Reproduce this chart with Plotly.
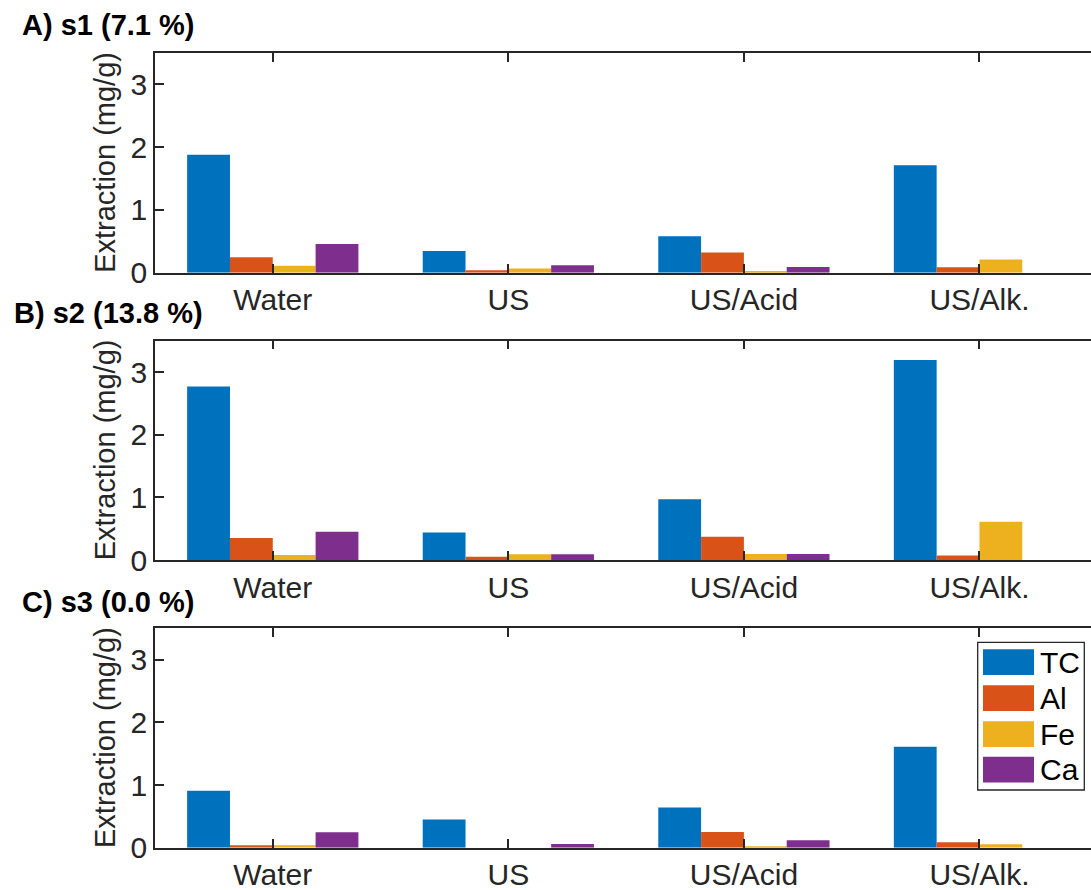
import plotly.graph_objects as go
from plotly.subplots import make_subplots

# Treatments on the x axis and the measured species
treatments = ["Water", "US", "US/Acid", "US/Alk."]
species = ["TC", "Al", "Fe", "Ca"]
colors = ["#0072BD", "#D95319", "#EDB120", "#7E2F8E"]

# Extraction (mg/g) per sample, one list per species in treatment order
s1_tc = [1.88, 0.345, 0.58, 1.71]
s1_al = [0.245, 0.04, 0.32, 0.085]
s1_fe = [0.11, 0.065, 0.02, 0.21]
s1_ca = [0.457, 0.12, 0.09, 0.0]

s2_tc = [2.77, 0.44, 0.97, 3.19]
s2_al = [0.35, 0.05, 0.37, 0.07]
s2_fe = [0.08, 0.09, 0.096, 0.61]
s2_ca = [0.45, 0.09, 0.096, 0.0]

s3_tc = [0.91, 0.45, 0.64, 1.61]
s3_al = [0.04, 0.0, 0.25, 0.086]
s3_fe = [0.04, 0.0, 0.01, 0.055]
s3_ca = [0.245, 0.06, 0.12, 0.0]

panel_titles = ["A) s1 (7.1 %)", "B) s2 (13.8 %)", "C) s3 (0.0 %)"]
panels = [
    [s1_tc, s1_al, s1_fe, s1_ca],
    [s2_tc, s2_al, s2_fe, s2_ca],
    [s3_tc, s3_al, s3_fe, s3_ca],
]

W, H = 1091, 890
FONT = "Liberation Sans, Arial, Helvetica, sans-serif"
AXC = "#262626"

fig = make_subplots(rows=3, cols=1)

for r, series in enumerate(panels, start=1):
    for name, vals, col in zip(species, series, colors):
        fig.add_trace(
            go.Bar(
                x=treatments, y=vals, name=name,
                marker=dict(color=col, line=dict(width=0)),
                showlegend=False,
            ),
            row=r, col=1,
        )

# Axis placement in pixels: (top, bottom) of each plot box
boxes = [(53, 272.7), (340.7, 560.0), (628.3, 847.7)]
left_px = 155
x_dom = [left_px / W, 1.0]
unit_px = 235.56
x_hi = -0.5 + (W - left_px) / unit_px

for i, (top, bot) in enumerate(boxes, start=1):
    xa = "xaxis" if i == 1 else f"xaxis{i}"
    ya = "yaxis" if i == 1 else f"yaxis{i}"
    fig.layout[xa].update(
        domain=x_dom, range=[-0.5, x_hi], type="category", automargin=False,
        showline=True, linecolor=AXC, linewidth=1.5, mirror="ticks",
        ticks="inside", ticklen=9, tickcolor=AXC, tickwidth=1.5,
        tickfont=dict(family=FONT, size=30, color=AXC),
        ticklabelstandoff=0,
        showgrid=False, zeroline=False,
    )
    fig.layout[ya].update(
        domain=[1 - bot / H, 1 - top / H], range=[0, 3.5], automargin=False,
        tickvals=[0, 1, 2, 3], ticktext=["0", "1", "2", "3"],
        showline=True, linecolor=AXC, linewidth=1.5,
        ticks="inside", ticklen=9, tickcolor=AXC, tickwidth=1.5,
        tickfont=dict(family=FONT, size=30, color=AXC),
        showgrid=False, zeroline=False,
    )
    # y-axis label
    fig.add_annotation(
        x=105 / W, y=1 - (top + bot) / 2 / H, xref="paper", yref="paper",
        text="Extraction (mg/g)", textangle=-90, showarrow=False,
        font=dict(family=FONT, size=29, color=AXC),
        xanchor="center", yanchor="middle",
    )

# Panel titles
title_y = [25, 313, 602]
for t, yc in zip(panel_titles, title_y):
    fig.add_annotation(
        x=108 / W, y=1 - yc / H, xref="paper", yref="paper",
        text=f"<b>{t}</b>", showarrow=False,
        font=dict(family=FONT, size=29, color="black"),
        xanchor="center", yanchor="middle",
    )

# Legend box drawn in the bottom panel
lg_x0, lg_x1, lg_y0, lg_y1 = 977.7, 1084.3, 642.3, 790.0
fig.add_shape(
    type="rect", xref="paper", yref="paper",
    x0=lg_x0 / W, x1=lg_x1 / W, y0=1 - lg_y1 / H, y1=1 - lg_y0 / H,
    line=dict(color=AXC, width=1.3), fillcolor="white", layer="above",
)
sw_top = [649.3, 685.3, 721.3, 756.7]
sw_h = 25.8
for name, col, yt in zip(species, colors, sw_top):
    fig.add_shape(
        type="rect", xref="paper", yref="paper",
        x0=983 / W, x1=1034 / W, y0=1 - (yt + sw_h) / H, y1=1 - yt / H,
        line=dict(width=0), fillcolor=col, layer="above",
    )
    fig.add_annotation(
        x=1038 / W, y=1 - (yt + sw_h / 2) / H, xref="paper", yref="paper",
        text=name, showarrow=False, xanchor="left", yanchor="middle",
        font=dict(family=FONT, size=30, color="black"),
    )

fig.update_layout(
    width=W, height=H, autosize=False,
    margin=dict(l=0, r=0, t=0, b=0),
    paper_bgcolor="white", plot_bgcolor="white",
    barmode="group", bargap=0.273, bargroupgap=0.0,
    font=dict(family=FONT),
)

fig.write_html("out.html")
